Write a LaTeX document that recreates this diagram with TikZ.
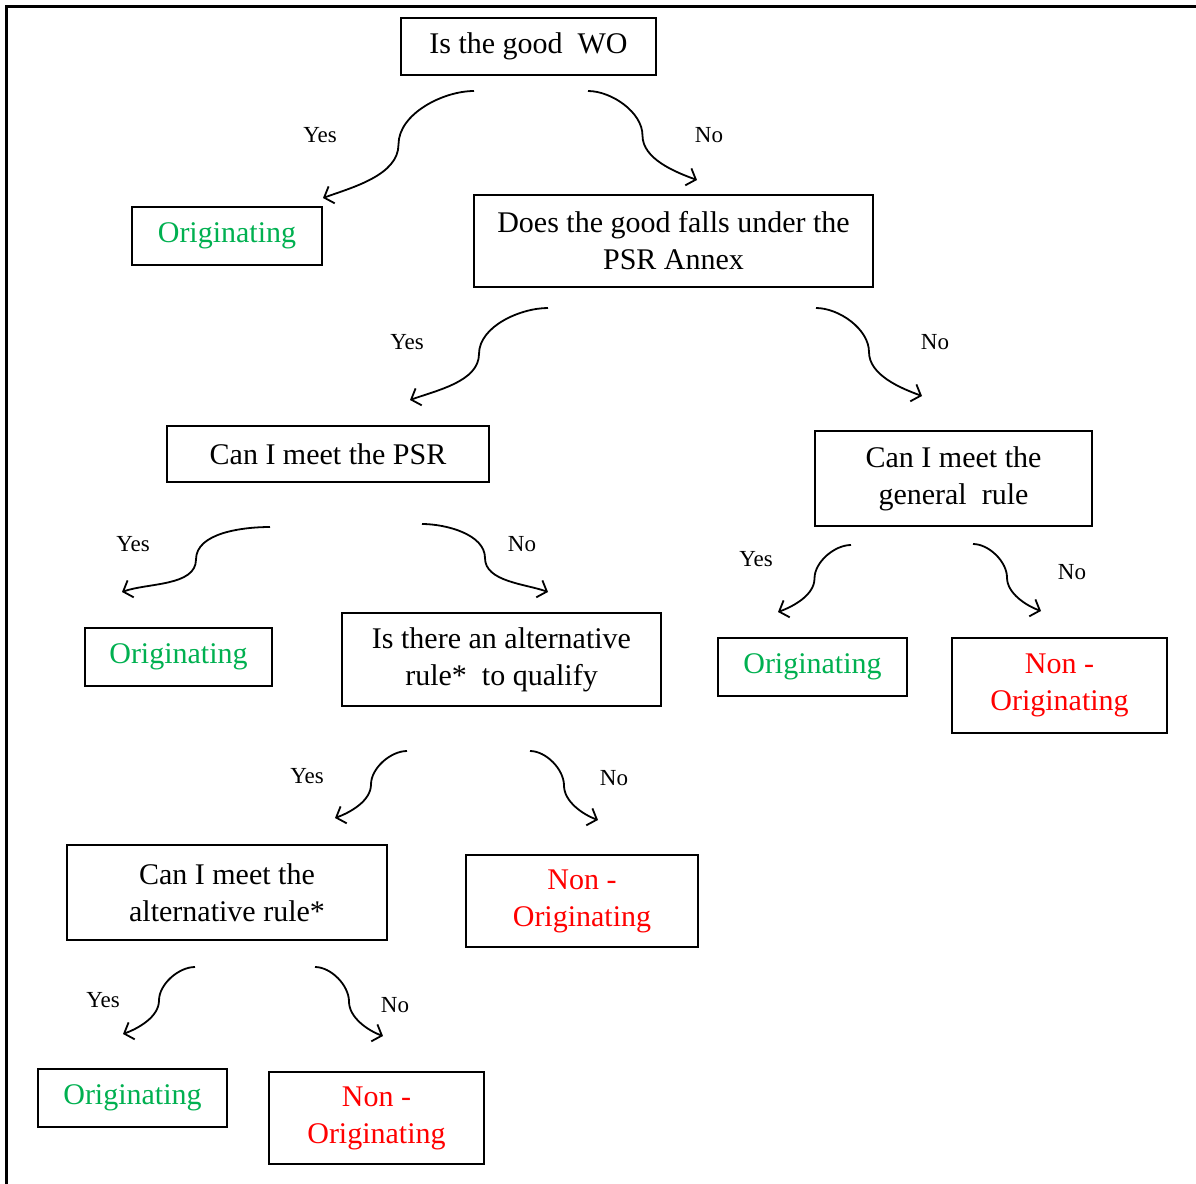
\documentclass[tikz,border=0pt]{standalone}
\usepackage{fontspec}
\setmainfont{Liberation Serif}
\usepackage{tikz}
\usetikzlibrary{arrows.meta}

\definecolor{origgreen}{RGB}{0,176,80}
\definecolor{nonred}{RGB}{255,0,0}

\begin{document}
\begin{tikzpicture}[
    x=0.5pt, y=0.5pt,
    box/.style={rectangle, draw, line width=1pt, inner sep=0pt, outer sep=0pt, align=center, font=\fontsize{15}{18.5}\selectfont},
    orig/.style={box, text=origgreen},
    non/.style={box, text=nonred},
    lab/.style={font=\fontsize{11.5}{13}\selectfont},
    arrow/.style={-{Straight Barb[length=4pt,width=9pt]}, line width=0.9pt, looseness=0.85}
]
\useasboundingbox (0,0) rectangle (1196,-1184);

% Frame
\draw[line width=1.5pt] (6,-1184) -- (6,-6) -- (1196,-6);

% Questions
\node[box, minimum width=127.5pt, minimum height=28.5pt] (wo) at (528.5,-46.5) {Is the good \ WO};
\node[box, minimum width=199.5pt, minimum height=46pt] (annex) at (673.5,-241) {Does the good falls under the\\PSR Annex};
\node[box, minimum width=161pt, minimum height=28pt] (psr) at (328,-454) {Can I meet the PSR};
\node[box, minimum width=138.5pt, minimum height=47.5pt] (general) at (953.5,-478.5) {Can I meet the\\general \ rule};
\node[box, minimum width=159.5pt, minimum height=46.5pt] (altq) at (501.5,-659.5) {Is there an alternative\\rule* \ to qualify};
\node[box, minimum width=160pt, minimum height=47.5pt] (altmeet) at (227,-892.5) {Can I meet the\\alternative rule*};

% Outcomes
\node[orig, minimum width=95pt, minimum height=29pt] (orig1) at (227,-236) {Originating};
\node[orig, minimum width=93.5pt, minimum height=29pt] (orig2) at (178.5,-657) {Originating};
\node[orig, minimum width=94.5pt, minimum height=29pt] (orig3) at (812.5,-667) {Originating};
\node[orig, minimum width=94.5pt, minimum height=29pt] (orig4) at (132.5,-1098) {Originating};
\node[non, minimum width=107.5pt, minimum height=47.5pt] (non1) at (1059.5,-685.5) {Non -\\Originating};
\node[non, minimum width=116pt, minimum height=46pt] (non2) at (582,-901) {Non -\\Originating};
\node[non, minimum width=107.5pt, minimum height=46pt] (non3) at (376.5,-1118) {Non -\\Originating};

% Connections
\draw[arrow] ([shift={(-54.5,-16)}]wo.south) to[out=180,in=90] ++(-75.5,-53.5) to[out=-90,in=20] ([shift={(96,9)}]orig1.north);
\draw[arrow] ([shift={(59.5,-16)}]wo.south) to[out=0,in=90] ++(54.5,-44.5) to[out=-90,in=160] ([shift={(23.5,15)}]annex.north);
\draw[arrow] ([shift={(-125.5,-21)}]annex.south) to[out=180,in=90] ++(-69,-46) to[out=-90,in=20] ([shift={(82,26)}]psr.north);
\draw[arrow] ([shift={(142.5,-21)}]annex.south) to[out=0,in=90] ++(53,-44) to[out=-90,in=160] ([shift={(-31.5,35)}]general.north);
\draw[arrow] ([shift={(-58,-45)}]psr.south) to[out=180,in=90] ++(-74,-32.5) to[out=-90,in=20] ([shift={(-56.5,36)}]orig2.north);
\draw[arrow] ([shift={(94,-42)}]psr.south) to[out=0,in=90] ++(63,-34) to[out=-90,in=160] ([shift={(46.5,21)}]altq.north);
\draw[arrow] ([shift={(-102.5,-19)}]general.south) to[out=180,in=90] ++(-36.5,-33.5) to[out=-90,in=20] ([shift={(-34.5,26)}]orig3.north);
\draw[arrow] ([shift={(19.5,-18)}]general.south) to[out=0,in=90] ++(34,-33.5) to[out=-90,in=160] ([shift={(-18.5,27)}]non1.north);
\draw[arrow] ([shift={(-94.5,-45)}]altq.south) to[out=180,in=90] ++(-36,-33.5) to[out=-90,in=20] ([shift={(108,27)}]altmeet.north);
\draw[arrow] ([shift={(28.5,-45)}]altq.south) to[out=0,in=90] ++(34,-34.5) to[out=-90,in=160] ([shift={(16,35)}]non2.north);
\draw[arrow] ([shift={(-32,-27)}]altmeet.south) to[out=180,in=90] ++(-36,-33.5) to[out=-90,in=20] ([shift={(-9.5,35)}]orig4.north);
\draw[arrow] ([shift={(88,-27)}]altmeet.south) to[out=0,in=90] ++(34,-34.5) to[out=-90,in=160] ([shift={(6.5,36)}]non3.north);

% Labels
\node[lab] (yes1) at (320,-135) {Yes};
\node[lab] (no1) at (709,-135) {No};
\node[lab] (yes2) at (407,-342) {Yes};
\node[lab] (no2) at (935,-342) {No};
\node[lab] (yes3) at (133,-544) {Yes};
\node[lab] (no3) at (522,-544) {No};
\node[lab] (yes4) at (756,-559) {Yes};
\node[lab] (no4) at (1072,-572) {No};
\node[lab] (yes5) at (307,-776) {Yes};
\node[lab] (no5) at (614,-778) {No};
\node[lab] (yes6) at (103,-1000) {Yes};
\node[lab] (no6) at (395,-1005) {No};

\end{tikzpicture}
\end{document}
